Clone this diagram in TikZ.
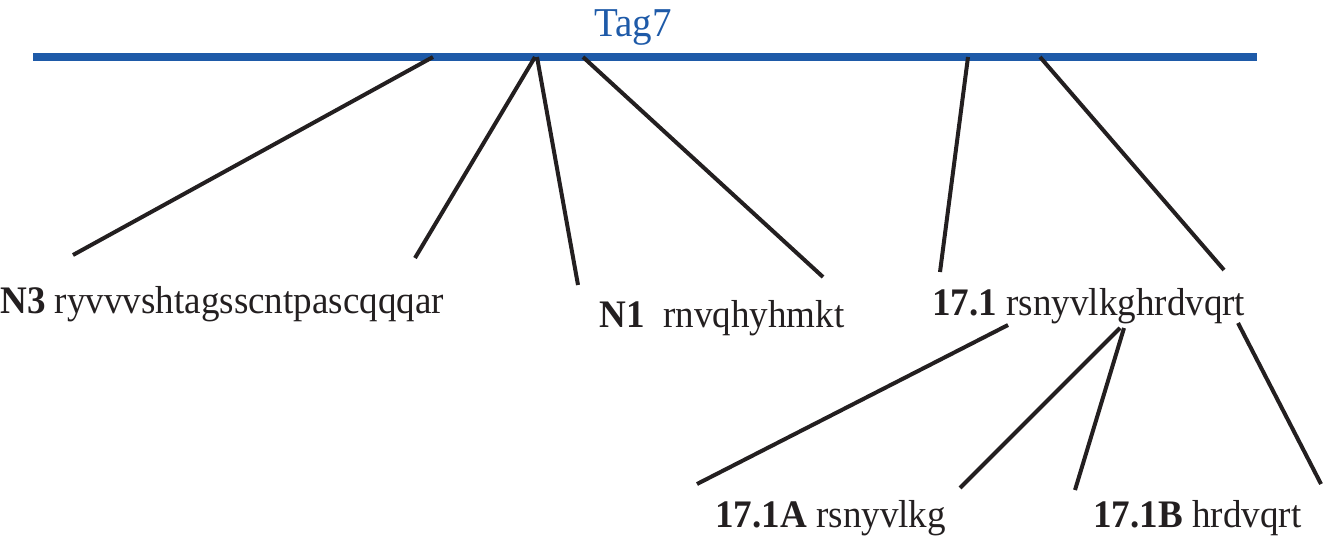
\documentclass[tikz,border=0pt]{standalone}
\usepackage{fontspec}
\setmainfont[FakeStretch=0.95]{Liberation Serif}
\definecolor{tagblue}{RGB}{30,90,168}
\definecolor{linegray}{RGB}{35,31,32}
\tikzset{
    bar/.style={line width=4.3pt, color=tagblue},
    branch/.style={line width=2pt, color=linegray},
    seq/.style={anchor=base west, inner sep=0pt, text=linegray,
        font=\fontsize{19.5pt}{20pt}\selectfont},
}
\begin{document}
\begin{tikzpicture}[x=0.5pt, y=-0.5pt]
    \useasboundingbox (0, 0) rectangle (1326, 537);
    % Tag7 line
    \coordinate (barL) at (33, 57);
    \coordinate (barR) at (1257, 57);
    \draw[bar] (barL) -- (barR);
    \node[seq, anchor=base, text=tagblue, font=\fontsize{20.5pt}{21pt}\selectfont]
        (tag) at (633, 36) {Tag7};
    % first level
    \node[seq] (n3) at (0, 313) {\textbf{N3} ryvvvshtagsscntpascqqqar};
    \node[seq] (n1) at (599, 327) {\textbf{N1}\ \ rnvqhyhmkt};
    \node[seq] (s171) at (932, 315) {\textbf{17.1} rsnyvlkghrdvqrt};
    \foreach \tx/\bx/\by [count=\i] in {433/73/255, 535/415/258, 537/578/285,
            583/823/277, 968/940/272, 1040/1224/270} {
        \coordinate (t\i) at (\tx, 57);
        \coordinate (b\i) at (\bx, \by);
        \draw[branch] (t\i) -- (b\i);
    }
    % second level
    \node[seq] (s171a) at (715, 527) {\textbf{17.1A} rsnyvlkg};
    \node[seq] (s171b) at (1093, 527) {\textbf{17.1B} hrdvqrt};
    \foreach \ux/\uy/\vx/\vy [count=\i] in {1008/325/697/484, 1120/328/960/488,
            1124/328/1075/490, 1238/323/1321/484} {
        \coordinate (u\i) at (\ux, \uy);
        \coordinate (v\i) at (\vx, \vy);
        \draw[branch] (u\i) -- (v\i);
    }
\end{tikzpicture}
\end{document}
